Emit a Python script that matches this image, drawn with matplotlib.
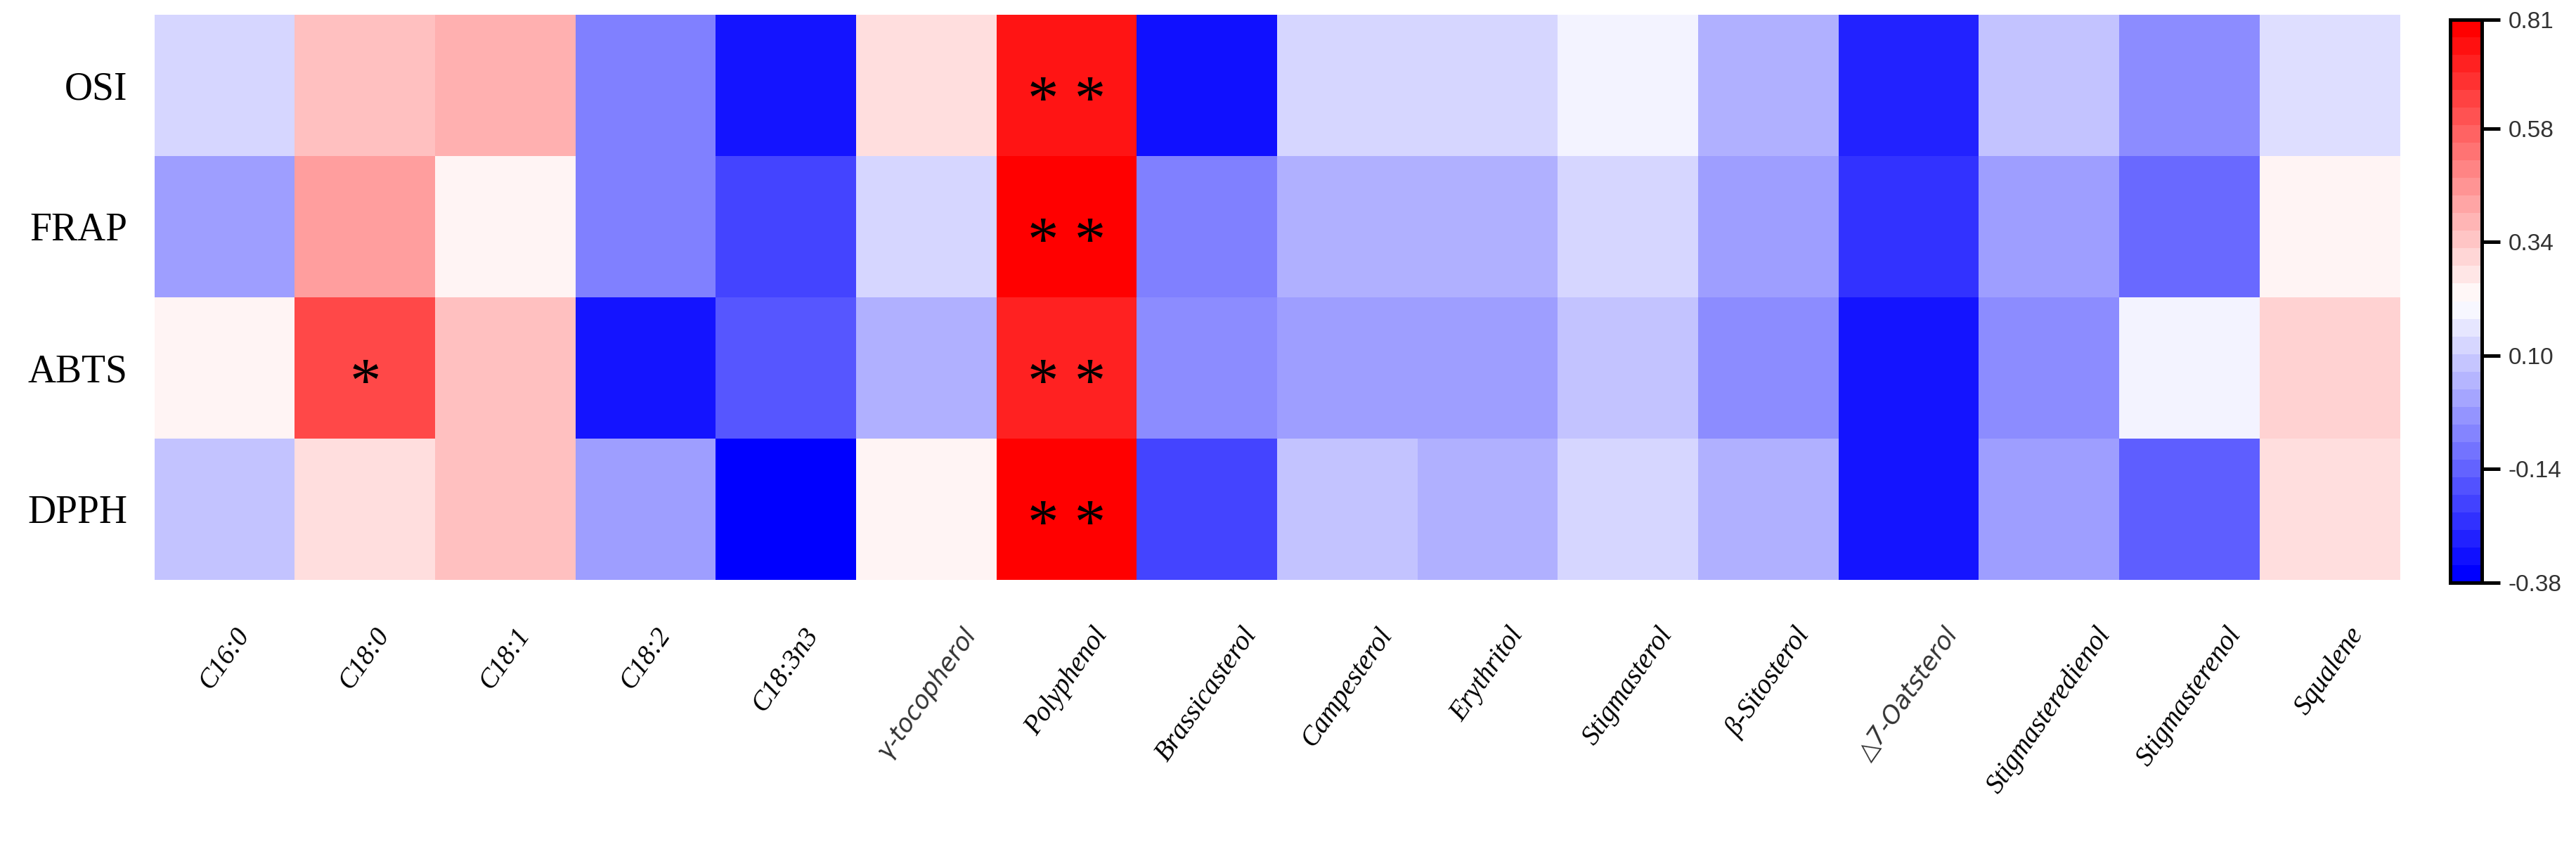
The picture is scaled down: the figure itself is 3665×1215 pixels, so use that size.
import numpy as np
import matplotlib
matplotlib.use("Agg")
import matplotlib.pyplot as plt
from matplotlib.colors import LinearSegmentedColormap, Normalize
from matplotlib.cm import ScalarMappable

plt.rcParams['axes.unicode_minus'] = False

# ---- data ----
rows = ['OSI', 'FRAP', 'ABTS', 'DPPH']
cols = ['C16:0', 'C18:0', 'C18:1', 'C18:2', 'C18:3n3', 'γ-tocopherol', 'Polyphenol',
        'Brassicasterol', 'Campesterol', 'Erythritol', 'Stigmasterol', 'β-Sitosterol',
        '△7-Oatsterol', 'Stigmasteredienol', 'Stigmasterenol', 'Squalene']
osi = [0.12, 0.36, 0.40, -0.08, -0.33, 0.29, 0.76, -0.34, 0.12, 0.12, 0.19, 0.03, -0.30, 0.08, -0.05, 0.14]
frap = [-0.01, 0.44, 0.24, -0.08, -0.22, 0.12, 0.81, -0.08, 0.03, 0.03, 0.12, -0.01, -0.26, -0.01, -0.13, 0.24]
abts = [0.24, 0.64, 0.36, -0.33, -0.18, 0.03, 0.73, -0.05, -0.01, -0.01, 0.08, -0.05, -0.33, -0.05, 0.19, 0.32]
dpph = [0.08, 0.29, 0.36, -0.01, -0.38, 0.24, 0.81, -0.22, 0.08, 0.03, 0.12, 0.03, -0.33, -0.01, -0.16, 0.29]
sig_rows = [0, 1, 2, 3, 2]
sig_cols = [6, 6, 6, 6, 1]
sig_text = ['* *', '* *', '* *', '* *', '*']
cbar_ticks = [-0.38, -0.14, 0.10, 0.34, 0.58, 0.81]
vmin, vmax = -0.38, 0.81

data = np.array([osi, frap, abts, dpph])

W, H = 3665, 1215
fig = plt.figure(figsize=(W / 100, H / 100), dpi=100)

cmap = LinearSegmentedColormap.from_list('bwr_c', ['#0000FF', '#FFFFFF', '#FF0000'])
cmap_d = LinearSegmentedColormap.from_list('bwr_d', ['#0000FF', '#FFFFFF', '#FF0000'], N=32)
norm = Normalize(vmin=vmin, vmax=vmax)

ax = fig.add_axes([220 / W, 1 - 825 / H, 3194 / W, 804 / H])
ax.imshow(data, cmap=cmap, norm=norm, aspect='auto', interpolation='nearest')
for s in ax.spines.values():
    s.set_visible(False)

ax.set_yticks(range(len(rows)))
ax.set_yticklabels(rows, fontfamily='Liberation Serif', fontsize=40)
ax.tick_params(axis='y', length=0, pad=28)

ax.set_xticks(range(len(cols)))
labs = ax.set_xticklabels(cols, rotation=55, ha='center', va='top',
                          fontfamily='Liberation Serif', fontstyle='italic', fontsize=28)
for t in labs:
    if t.get_text() in ('γ-tocopherol', '△7-Oatsterol'):
        t.set_fontfamily('DejaVu Sans')
        t.set_fontsize(25)
        t.set_color('#333333')
ax.tick_params(axis='x', length=0, pad=44)

for r, c, s in zip(sig_rows, sig_cols, sig_text):
    ax.text(c, r + 0.23, s, ha='center', va='baseline', fontsize=64,
            fontfamily='Liberation Serif', color='black')

cax = fig.add_axes([3486 / W, 1 - 829 / H, 45 / W, 801 / H])
cb = fig.colorbar(ScalarMappable(norm=norm, cmap=cmap_d), cax=cax, ticks=cbar_ticks)
cb.outline.set_linewidth(3.6)
cb.ax.set_yticklabels(['%.2f' % v for v in cbar_ticks])
cb.ax.tick_params(length=19, width=3.6, pad=8, labelsize=24)
for t in cb.ax.get_yticklabels():
    t.set_fontfamily('Liberation Sans')
    t.set_color('#333333')

fig.savefig('out.png', dpi=100)
